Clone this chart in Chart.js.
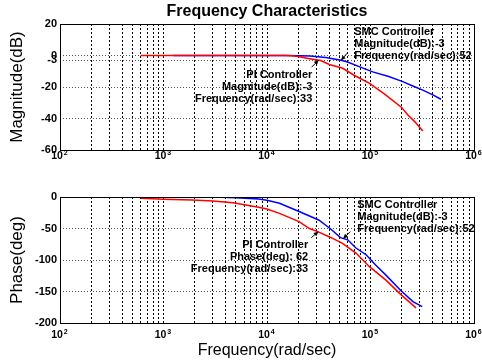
<!DOCTYPE html>
<html>
<head>
<meta charset="utf-8">
<script src="https://cdn.jsdelivr.net/npm/chart.js@4"></script>
<style>
  html, body { margin: 0; padding: 0; background: #fff; overflow: hidden; }
  .box { position: absolute; left: 0; width: 482px; }
  #mag-box { top: 0; height: 180px; }
  #phase-box { top: 180px; height: 182px; }
</style>
</head>
<body>
<div class="box" id="mag-box"><canvas id="magChart"></canvas></div>
<div class="box" id="phase-box"><canvas id="phaseChart"></canvas></div>
<script>
// values (rad/sec, dB, deg)
const piMagFreq = [600, 2000, 10000, 15000, 17500, 20000, 25000, 33000, 40000, 54000, 70000, 98000, 140000, 200000, 230000, 270000, 320000];
const piMag = [0, 0, 0, 0, -0.1, -0.6, -1.9, -3.2, -5.7, -8.1, -12.7, -17.7, -25, -33, -37.8, -42.3, -48];

const smcMagFreq = [1250, 15000, 20000, 26000, 37000, 52000, 60000, 80000, 105000, 150000, 205000, 260000, 320000, 400000, 480000];
const smcMag = [0, 0, -0.1, -0.3, -1.2, -3, -4.1, -7.4, -10.4, -13.3, -16.6, -19.5, -22, -25, -27.8];

const piPhaseFreq = [600, 1000, 1900, 3000, 4700, 8300, 10000, 13200, 20400, 25700, 30900, 39800, 53700, 72400, 97700, 141000, 191000, 275000];
const piPhase = [-2, -3.5, -4.8, -6.3, -9, -16.4, -19, -26, -39, -50, -55, -63, -73.5, -89, -110.6, -132, -153, -176];

const smcPhaseFreq = [1250, 3000, 5000, 8300, 10000, 13200, 20400, 31600, 40700, 51300, 60300, 72400, 91200, 112000, 141000, 195000, 257000, 316000];
const smcPhase = [0, 0, -1, -3.2, -5, -10, -23, -36.5, -50, -64.5, -68, -81, -92, -108, -124, -148, -166, -174];

const decades = [2, 3, 4, 5, 6];
const magTicks = [-60, -40, -20, -3, 0, 20];
const phaseTicks = [-200, -150, -100, -50, 0];

const FONT = "'Liberation Sans', Arial, sans-serif";
Chart.defaults.font.family = FONT;
Chart.defaults.color = '#000';

function toPoints(xs, ys) {
    return xs.map((x, i) => ({x: x, y: ys[i]}));
}

// every 1..9 x 10^n, so the dotted grid has the minor lines too
function logGridTicks() {
    const t = [];
    for (let e = decades[0]; e < decades[decades.length - 1]; e++) {
        for (let m = 1; m < 10; m++) t.push({value: m * Math.pow(10, e)});
    }
    t.push({value: Math.pow(10, decades[decades.length - 1])});
    return t;
}

//frame, title over the plot box, 10^n labels, text notes and arrows
const decor = {
    id: 'decor',
    afterDatasetsDraw(chart, args, opts) {
        const {ctx, chartArea: a, scales: {x, y}} = chart;
        ctx.save();
        ctx.strokeStyle = '#000';
        ctx.lineWidth = 1;
        ctx.strokeRect(Math.round(a.left) + 0.5, Math.round(a.top) + 0.5,
            Math.round(a.right - a.left), Math.round(a.bottom - a.top));

        ctx.fillStyle = '#000';
        ctx.textBaseline = 'middle';
        if (opts.title) {
            ctx.font = 'bold 16px ' + FONT;
            ctx.textAlign = 'center';
            ctx.fillText(opts.title, (a.left + a.right) / 2, a.top - 12);
        }

        ctx.textAlign = 'left';
        decades.forEach(e => {
            const px = x.getPixelForValue(Math.pow(10, e));
            ctx.font = 'bold 10.5px ' + FONT;
            const w = ctx.measureText('10').width;
            ctx.fillText('10', px - w / 2 - 3, a.bottom + opts.labelGap);
            ctx.font = 'bold 7px ' + FONT;
            ctx.fillText(String(e), px + w / 2 - 2, a.bottom + opts.labelGap - 3);
        });

        ctx.font = 'bold 11px ' + FONT;
        opts.notes.forEach(n => {
            const px = x.getPixelForValue(n.x), py = y.getPixelForValue(n.y);
            ctx.textAlign = n.align;
            n.lines.forEach((s, i) => ctx.fillText(s, px, py + i * 12));
        });

        opts.arrows.forEach(ar => {
            const tx = x.getPixelForValue(ar.x), ty = y.getPixelForValue(ar.y);
            const sx = tx + ar.dx, sy = ty + ar.dy;
            const ang = Math.atan2(ty - sy, tx - sx);
            ctx.beginPath();
            ctx.moveTo(sx, sy);
            ctx.lineTo(tx, ty);
            ctx.stroke();
            ctx.beginPath();
            ctx.moveTo(tx, ty);
            ctx.lineTo(tx - 5 * Math.cos(ang - 0.45), ty - 5 * Math.sin(ang - 0.45));
            ctx.lineTo(tx - 5 * Math.cos(ang + 0.45), ty - 5 * Math.sin(ang + 0.45));
            ctx.closePath();
            ctx.fill();
        });
        ctx.restore();
    }
};

function buildOptions(cfg) {
    return {
        responsive: true,
        maintainAspectRatio: false,
        animation: false,
        layout: {padding: cfg.padding},
        elements: {point: {radius: 0}, line: {tension: 0, borderWidth: 1.5}},
        plugins: {
            legend: {display: false},
            tooltip: {enabled: false},
            title: {display: false},
            decor: cfg.decor
        },
        scales: {
            x: {
                type: 'logarithmic',
                min: 100,
                max: 1e6,
                afterBuildTicks: s => { s.ticks = logGridTicks(); },
                afterFit: s => { s.height = cfg.xHeight; s.paddingLeft = 0; s.paddingRight = 0; },
                ticks: {display: false, autoSkip: false},
                grid: {color: '#000', lineWidth: 1, drawTicks: false},
                border: {display: false, dash: [2, 2]},
                title: cfg.xTitle
            },
            y: {
                min: cfg.yMin,
                max: cfg.yMax,
                afterBuildTicks: s => { s.ticks = cfg.yTicks.map(v => ({value: v})); },
                afterFit: s => { s.width = 60; s.paddingTop = 0; s.paddingBottom = 0; },
                ticks: {autoSkip: false, padding: 3, font: {size: 11, weight: 'bold'}},
                grid: {color: '#555', lineWidth: 1, drawTicks: false},
                border: {display: false, dash: [1, 2]},
                title: {display: true, text: cfg.yTitle, font: {size: 17}, padding: {top: 7}}
            }
        }
    };
}

new Chart(document.getElementById('magChart'), {
    type: 'line',
    data: {
        datasets: [
            {label: 'PI Controller', data: toPoints(piMagFreq, piMag), borderColor: '#ff0000'},
            {label: 'SMC Controller', data: toPoints(smcMagFreq, smcMag), borderColor: '#0000ff'}
        ]
    },
    options: buildOptions({
        padding: {left: 0, right: 8, top: 24, bottom: 0},
        xHeight: 30,
        xTitle: {display: false},
        yMin: -60, yMax: 20, yTicks: magTicks,
        yTitle: 'Magnitude(dB)',
        decor: {
            title: 'Frequency Characteristics',
            labelGap: 6,
            notes: [
                {x: 69700, y: 14.9, align: 'left', lines: ['SMC Controller', 'Magnitude(dB):-3', 'Frequency(rad/sec):52']},
                {x: 27400, y: -12.4, align: 'right', lines: ['PI Controller', 'Magnitude(dB):-3', 'Frequency(rad/sec):33']}
            ],
            arrows: [
                {x: 52000, y: -3, dx: 6, dy: -7},
                {x: 31500, y: -3, dx: -7, dy: 7}
            ]
        }
    }),
    plugins: [decor]
});

new Chart(document.getElementById('phaseChart'), {
    type: 'line',
    data: {
        datasets: [
            {label: 'PI Controller', data: toPoints(piPhaseFreq, piPhase), borderColor: '#ff0000'},
            {label: 'SMC Controller', data: toPoints(smcPhaseFreq, smcPhase), borderColor: '#0000ff'}
        ]
    },
    options: buildOptions({
        padding: {left: 0, right: 8, top: 17, bottom: 0},
        xHeight: 39,
        xTitle: {display: true, text: 'Frequency(rad/sec)', font: {size: 16}, padding: {top: 0, bottom: 2}},
        yMin: -200, yMax: 0, yTicks: phaseTicks,
        yTitle: 'Phase(deg)',
        decor: {
            labelGap: 12,
            notes: [
                {x: 74500, y: -12.7, align: 'left', lines: ['SMC Controller', 'Magnitude(dB):-3', 'Frequency(rad/sec):52']},
                {x: 25000, y: -76.2, align: 'right', lines: ['PI Controller', 'Phase(deg): 62', 'Frequency(rad/sec):33']}
            ],
            arrows: [
                {x: 54600, y: -66, dx: 7, dy: -7},
                {x: 31300, y: -55, dx: -7, dy: 6}
            ]
        }
    }),
    plugins: [decor]
});
</script>
</body>
</html>
